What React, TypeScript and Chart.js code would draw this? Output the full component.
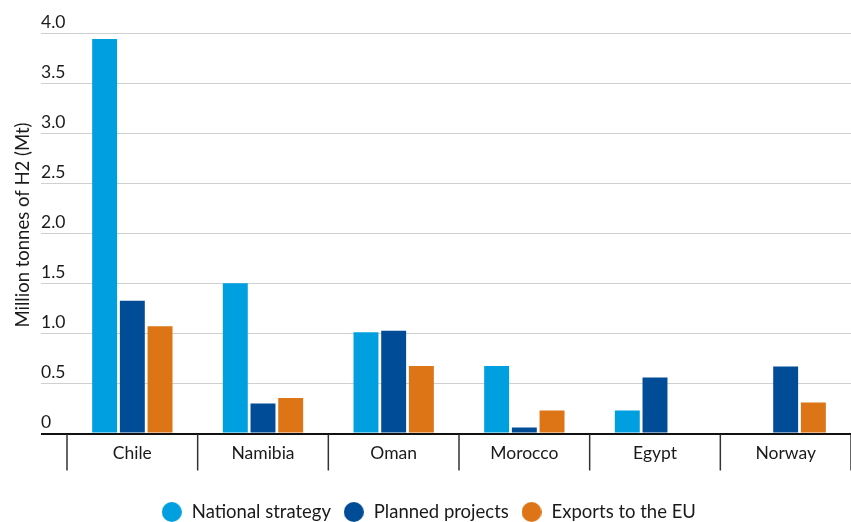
import React, { useEffect, useRef } from "react";
import { Chart, registerables } from "chart.js";

Chart.register(...registerables);

const categories = ["Chile", "Namibia", "Oman", "Morocco", "Egypt", "Norway"];
const nationalStrategy = [3.94, 1.5, 1.01, 0.675, 0.23, null];
const plannedProjects = [1.325, 0.3, 1.025, 0.06, 0.56, 0.67];
const exportsToEU = [1.07, 0.355, 0.675, 0.23, null, 0.31];
const seriesNames = ["National strategy", "Planned projects", "Exports to the EU"];
const seriesColors = ["#00A0E0", "#004C97", "#DD7416"];
const yTitle = "Million tonnes of H2 (Mt)";

const FONT = "Lato, 'Noto Sans', sans-serif";
const TEXT = "#1a1a1a";

function makeDot(color: string) {
  const c = document.createElement("canvas");
  c.width = 20;
  c.height = 20;
  const g = c.getContext("2d")!;
  g.fillStyle = color;
  g.beginPath();
  g.arc(10, 10, 10, 0, Math.PI * 2);
  g.fill();
  return c;
}

const fmt = (v: number) => (v === 0 ? "0" : v.toFixed(1));

export default function App() {
  const ref = useRef<HTMLCanvasElement | null>(null);

  useEffect(() => {
    if (!ref.current) return;
    const dots = seriesColors.map(makeDot);
    const extras = {
      id: "extras",
      afterDraw(chart: any) {
        const ctx = chart.ctx;
        const xs = chart.scales.x;
        const ys = chart.scales.y;
        const area = chart.chartArea;
        const step = xs.getPixelForValue(1) - xs.getPixelForValue(0);
        // category dividers under the axis
        ctx.save();
        ctx.strokeStyle = "#333";
        ctx.lineWidth = 1.5;
        const n = categories.length;
        for (let i = 0; i <= n; i++) {
          const px = xs.getPixelForValue(Math.min(i, n - 1)) + (i < n ? -step / 2 : step / 2);
          ctx.beginPath();
          ctx.moveTo(px, area.bottom + 1);
          ctx.lineTo(px, area.bottom + 37);
          ctx.stroke();
        }
        ctx.restore();
        // y tick labels sitting above their gridlines
        ctx.save();
        ctx.font = `17.5px ${FONT}`;
        ctx.fillStyle = TEXT;
        ctx.textAlign = "left";
        ctx.textBaseline = "middle";
        ys.ticks.forEach((t: any) => {
          ctx.fillText(fmt(t.value), 41, ys.getPixelForValue(t.value) - 11);
        });
        ctx.restore();
        // y-axis title
        ctx.save();
        ctx.translate(23, 225);
        ctx.rotate(-Math.PI / 2);
        ctx.font = `18.5px ${FONT}`;
        ctx.fillStyle = TEXT;
        ctx.textAlign = "center";
        ctx.textBaseline = "middle";
        ctx.fillText(yTitle, 0, 0);
        ctx.restore();
      },
    };
    const chart = new Chart(ref.current, {
      type: "bar",
      data: {
        labels: categories,
        datasets: [nationalStrategy, plannedProjects, exportsToEU].map((d, i) => ({
          label: seriesNames[i],
          data: d as any,
          backgroundColor: seriesColors[i],
          borderWidth: 0,
          categoryPercentage: 0.636,
          barPercentage: 0.9,
        })),
      },
      options: {
        animation: false,
        responsive: false,
        maintainAspectRatio: false,
        layout: { padding: { left: 0, right: -6, top: 33, bottom: -9.25 } },
        plugins: {
          tooltip: { enabled: false },
          legend: {
            position: "bottom",
            labels: {
              usePointStyle: true,
              pointStyleWidth: 21.5,
              boxWidth: 21.5,
              boxHeight: 12,
              padding: 12,
              color: TEXT,
              font: { family: FONT, size: 18.5 },
              generateLabels: (ch: any) =>
                Chart.defaults.plugins.legend.labels
                  .generateLabels(ch)
                  .map((l: any, i: number) => ({ ...l, pointStyle: dots[i] })),
            },
          },
        },
        scales: {
          x: {
            type: "category",
            afterFit(scale: any) {
              scale.height = 57.25;
            },
            grid: { display: false, drawTicks: false },
            border: { display: false },
            ticks: {
              padding: 9,
              color: TEXT,
              font: { family: FONT, size: 17.5 },
            },
          },
          y: {
            min: 0,
            max: 4,
            afterFit(scale: any) {
              scale.width = 67;
            },
            grid: {
              color: (c: any) => (c.tick && c.tick.value === 0 ? "#111" : "#d0d0d0"),
              lineWidth: (c: any) => (c.tick && c.tick.value === 0 ? 2 : 1),
              drawTicks: true,
              tickLength: 26,
            },
            border: { display: false },
            ticks: {
              stepSize: 0.5,
              display: false,
            },
          },
        },
      },
      plugins: [extras],
    });
    return () => chart.destroy();
  }, []);

  return (
    <div style={{ position: "fixed", left: 0, top: 0, width: 851, height: 522, background: "#fff" }}>
      <canvas ref={ref} width={851} height={522} style={{ width: 851, height: 522, display: "block" }} />
    </div>
  );
}
